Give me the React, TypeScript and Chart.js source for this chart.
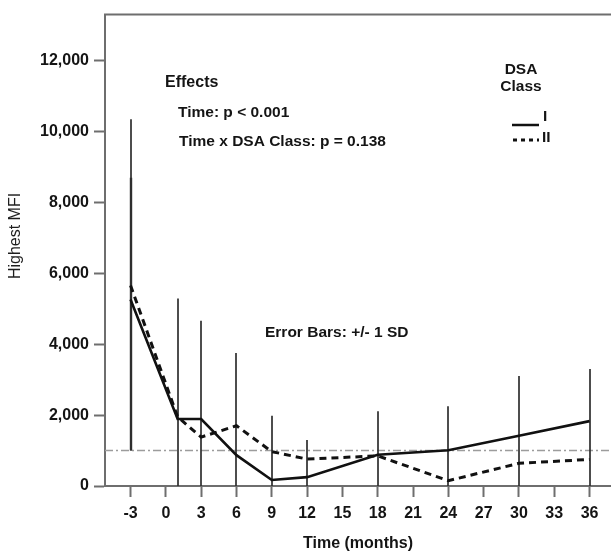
import React, { useEffect, useRef } from "react";
import { Chart, registerables } from "chart.js";

Chart.register(...registerables);

// ---- data ----
const months = [-3, 1, 3, 6, 9, 12, 18, 24, 30, 36];
const classI = [5260, 1890, 1890, 870, 170, 250, 880, 1010, 1420, 1830];
const classII = [5660, 1950, 1380, 1700, 970, 760, 850, 150, 640, 750];
const sdUpper = [10350, 5290, 4660, 3750, 1980, 1300, 2110, 2250, 3100, 3300];
const sdUpperSecond: (number | null)[] = [8700, null, null, null, null, null, null, null, null, null];
const sdLower = [1000, 0, 0, 0, 0, 0, 0, 0, 0, 0];
const referenceLevel = 1000;
const xTickValues = [-3, 0, 3, 6, 9, 12, 15, 18, 21, 24, 27, 30, 33, 36];
const yTickValues = [0, 2000, 4000, 6000, 8000, 10000, 12000];
const xRange = [-5.17, 37.82];
const yRange = [0, 13300];
const legendTitle = ["DSA", "Class"];
const legendLabels = ["I", "II"];
const effectsLines = ["Effects", "Time: p < 0.001", "Time x DSA Class: p = 0.138"];
const errorNote = "Error Bars: +/- 1 SD";
const xTitle = "Time (months)";
const yTitle = "Highest MFI";

const FONT = '"Liberation Sans", Arial, Helvetica, sans-serif';
const AXIS_COLOR = "#6e6e6e";
const TEXT_COLOR = "#141414";

const overlay = {
  id: "overlay",
  beforeDatasetsDraw(chart: any) {
    const { ctx, chartArea, scales } = chart;
    const x = scales.x;
    const y = scales.y;
    ctx.save();
    // reference line
    ctx.strokeStyle = "#9c9c9c";
    ctx.lineWidth = 1.6;
    ctx.setLineDash([8, 3, 2, 3]);
    const ry = y.getPixelForValue(referenceLevel);
    ctx.beginPath();
    ctx.moveTo(chartArea.left, ry);
    ctx.lineTo(chartArea.right, ry);
    ctx.stroke();
    // error bars
    ctx.setLineDash([]);
    ctx.strokeStyle = "#2e2e2e";
    ctx.lineWidth = 1.7;
    months.forEach((m, i) => {
      const px = Math.round(x.getPixelForValue(m));
      const lo = y.getPixelForValue(sdLower[i]);
      ctx.beginPath();
      ctx.moveTo(px, lo);
      ctx.lineTo(px, y.getPixelForValue(sdUpper[i]));
      ctx.stroke();
      const s2 = sdUpperSecond[i];
      if (s2 !== null) {
        ctx.lineWidth = 2.4;
        ctx.beginPath();
        ctx.moveTo(px, lo);
        ctx.lineTo(px, y.getPixelForValue(s2));
        ctx.stroke();
        ctx.lineWidth = 1.7;
      }
    });
    ctx.restore();
  },
  afterDraw(chart: any) {
    const { ctx, chartArea } = chart;
    ctx.save();
    // top frame line
    ctx.strokeStyle = AXIS_COLOR;
    ctx.lineWidth = 2;
    ctx.beginPath();
    ctx.moveTo(chartArea.left - 1, chartArea.top);
    ctx.lineTo(chartArea.right, chartArea.top);
    ctx.stroke();

    ctx.fillStyle = TEXT_COLOR;
    ctx.textBaseline = "middle";
    // effects block
    ctx.textAlign = "left";
    ctx.font = `bold 16px ${FONT}`;
    ctx.fillText(effectsLines[0], chartArea.left + 60, 83);
    ctx.font = `bold 15.5px ${FONT}`;
    ctx.fillText(effectsLines[1], chartArea.left + 73, 113);
    ctx.fillText(effectsLines[2], chartArea.left + 74, 142);
    // error note
    ctx.fillText(errorNote, chartArea.left + 160, 333);

    // legend
    ctx.textAlign = "center";
    ctx.font = `bold 15.5px ${FONT}`;
    ctx.fillText(legendTitle[0], 521, 70);
    ctx.fillText(legendTitle[1], 521, 87);
    ctx.strokeStyle = "#111";
    ctx.lineWidth = 2.5;
    ctx.beginPath();
    ctx.moveTo(512, 125);
    ctx.lineTo(539, 125);
    ctx.stroke();
    ctx.lineWidth = 3;
    ctx.setLineDash([4, 4]);
    ctx.beginPath();
    ctx.moveTo(513, 140);
    ctx.lineTo(539, 140);
    ctx.stroke();
    ctx.setLineDash([]);
    ctx.textAlign = "left";
    ctx.fillText(legendLabels[0], 543, 117);
    ctx.fillText(legendLabels[1], 542, 138);

    // axis titles
    ctx.textAlign = "center";
    ctx.font = `bold 16px ${FONT}`;
    ctx.fillText(xTitle, (chartArea.left + chartArea.right) / 2, 544);
    ctx.save();
    ctx.translate(16, 236);
    ctx.rotate(-Math.PI / 2);
    ctx.font = `16px ${FONT}`;
    ctx.fillStyle = "#1e1e1e";
    ctx.fillText(yTitle, 0, 0);
    ctx.restore();
    ctx.restore();
  },
};

export default function App() {
  const canvasRef = useRef<HTMLCanvasElement | null>(null);

  useEffect(() => {
    if (!canvasRef.current) return;
    const chart = new Chart(canvasRef.current, {
      type: "line",
      data: {
        datasets: [
          {
            label: legendLabels[0],
            data: months.map((m, i) => ({ x: m, y: classI[i] })),
            borderColor: "#111",
            borderWidth: 2.6,
            pointRadius: 0,
            tension: 0,
            fill: false,
          },
          {
            label: legendLabels[1],
            data: months.map((m, i) => ({ x: m, y: classII[i] })),
            borderColor: "#111",
            borderWidth: 3,
            borderDash: [7, 5],
            pointRadius: 0,
            tension: 0,
            fill: false,
          },
        ],
      },
      options: {
        responsive: false,
        animation: false,
        devicePixelRatio: 1,
        layout: { padding: { top: 13, right: 0, left: 0, bottom: 0 } },
        plugins: { legend: { display: false }, tooltip: { enabled: false } },
        scales: {
          x: {
            type: "linear",
            min: xRange[0],
            max: xRange[1],
            afterBuildTicks: (scale: any) => {
              scale.ticks = xTickValues.map((v) => ({ value: v }));
            },
            afterFit: (scale: any) => {
              scale.height = 66;
            },
            grid: {
              drawOnChartArea: false,
              drawTicks: true,
              tickLength: 11,
              tickWidth: 2,
              tickColor: AXIS_COLOR,
            },
            border: { display: true, color: AXIS_COLOR, width: 2 },
            ticks: {
              autoSkip: false,
              maxRotation: 0,
              padding: 7,
              color: TEXT_COLOR,
              font: { family: FONT, size: 16, weight: "bold" },
              callback: (v: any) => String(v),
            },
          },
          y: {
            type: "linear",
            min: yRange[0],
            max: yRange[1],
            afterBuildTicks: (scale: any) => {
              scale.ticks = yTickValues.map((v) => ({ value: v }));
            },
            afterFit: (scale: any) => {
              scale.width = 105;
            },
            grid: {
              drawOnChartArea: false,
              drawTicks: true,
              tickLength: 11,
              tickWidth: 2,
              tickColor: AXIS_COLOR,
            },
            border: { display: true, color: AXIS_COLOR, width: 2 },
            ticks: {
              padding: 5,
              color: TEXT_COLOR,
              font: { family: FONT, size: 16, weight: "bold" },
              callback: (v: any) => Number(v).toLocaleString("en-US"),
            },
          },
        },
      },
      plugins: [overlay],
    } as any);
    return () => chart.destroy();
  }, []);

  return (
    <div style={{ position: "absolute", left: 0, top: 0, width: 611, height: 552, background: "#fff" }}>
      <canvas ref={canvasRef} width={611} height={552} style={{ display: "block" }} />
    </div>
  );
}
